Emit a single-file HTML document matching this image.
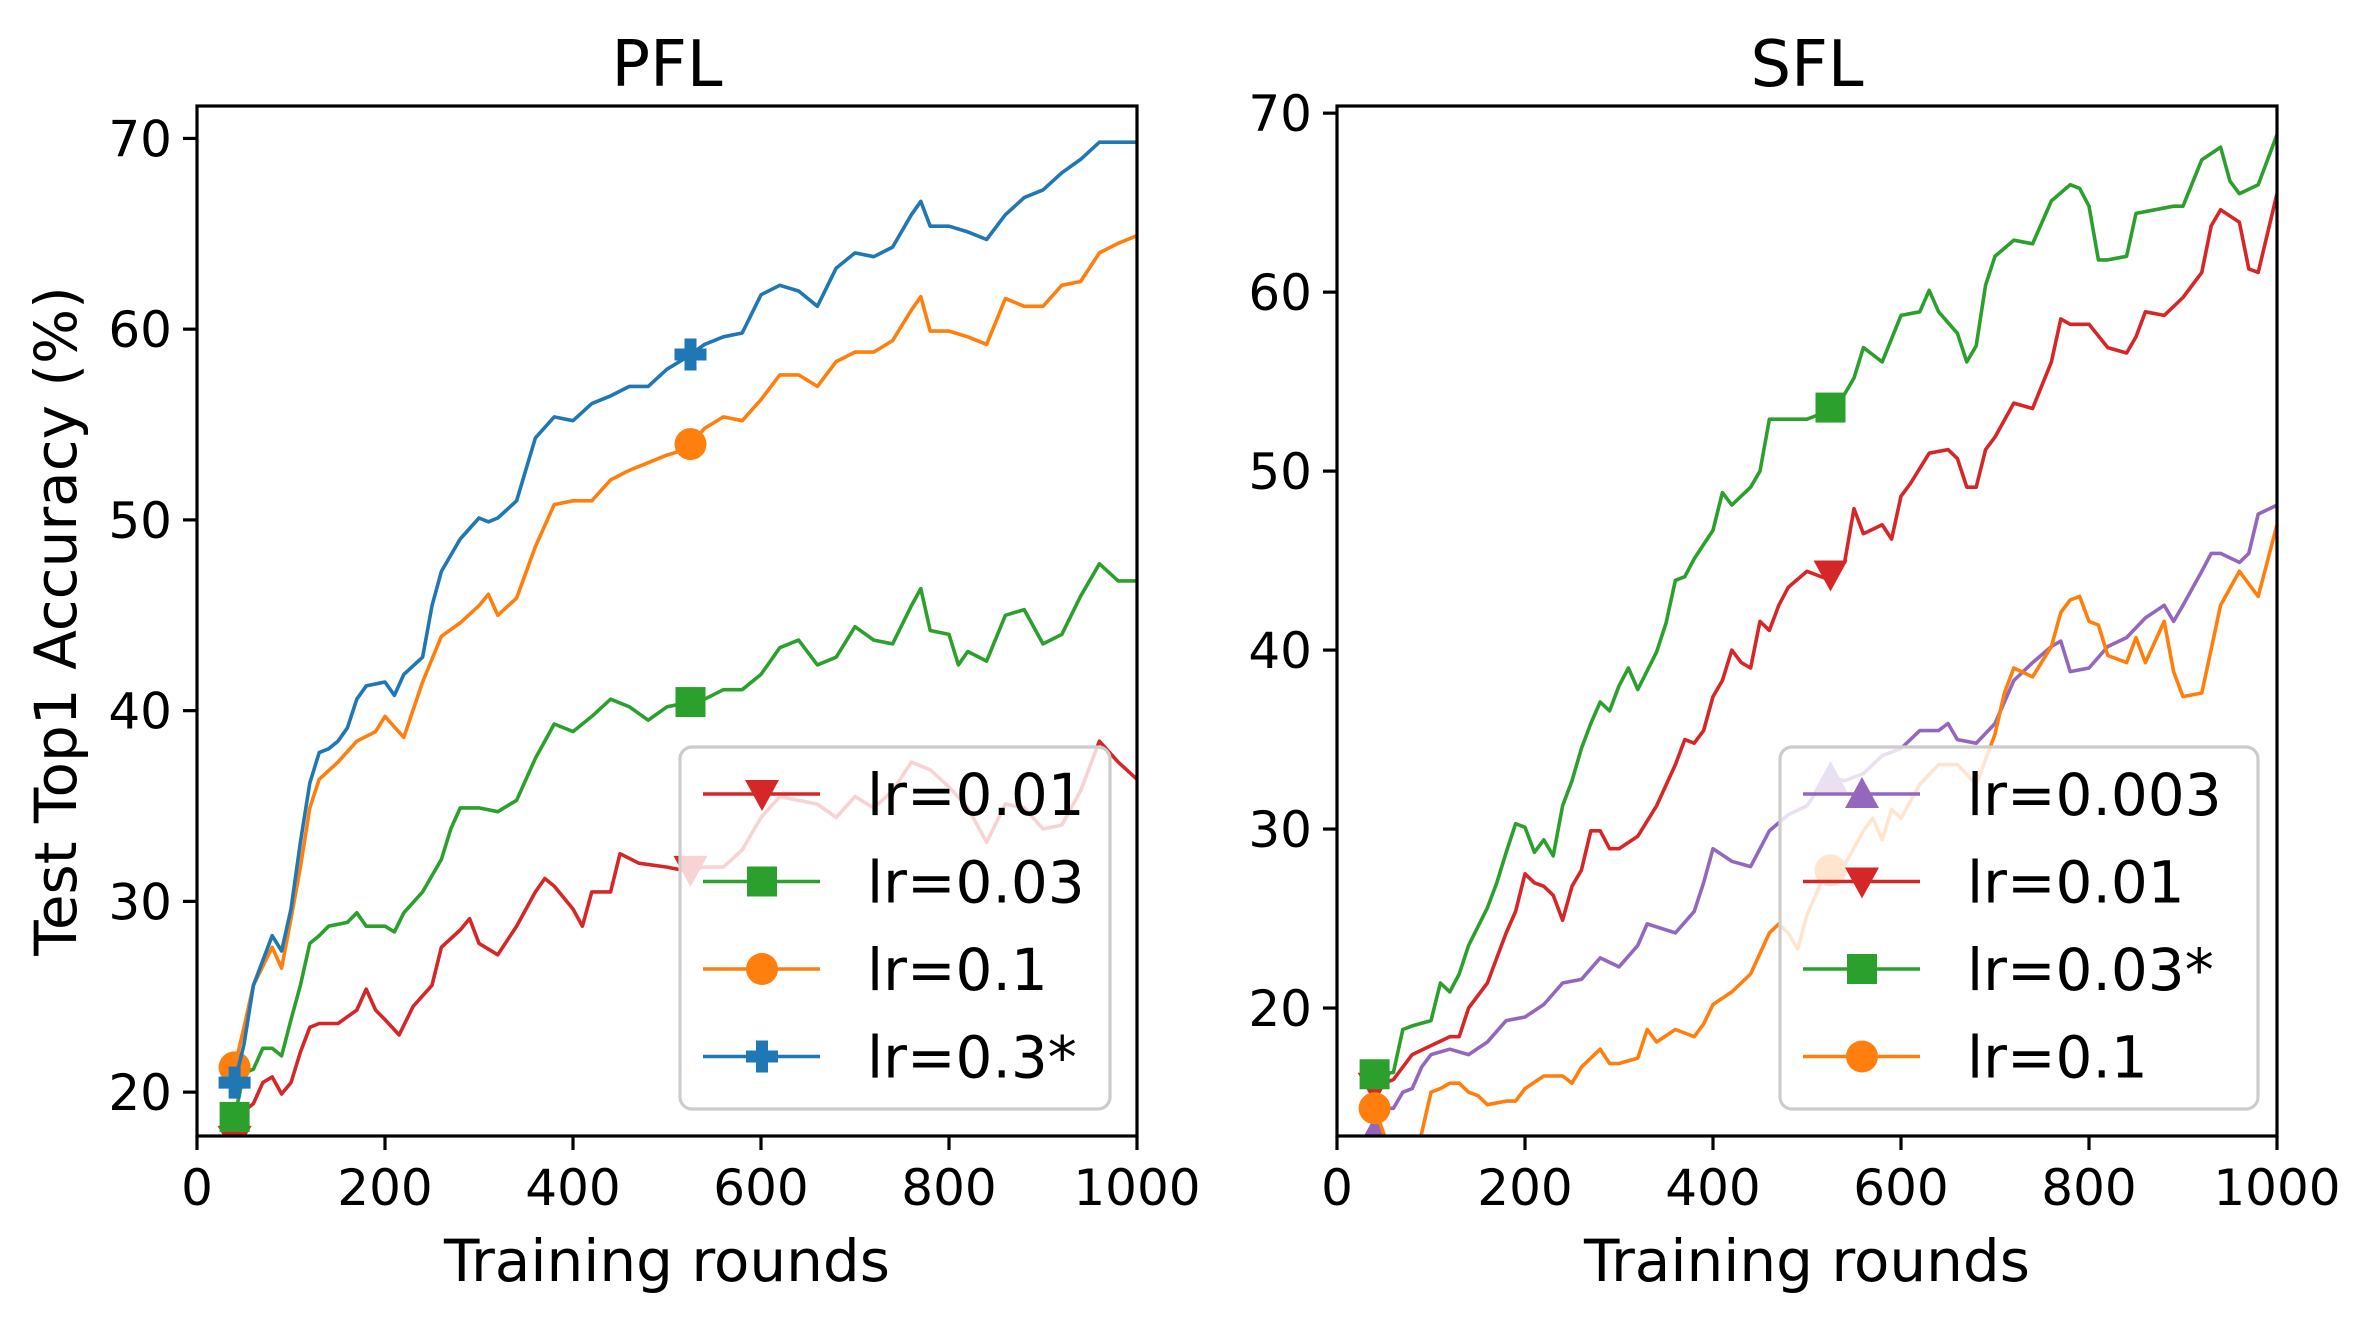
<!DOCTYPE html>
<html><head><meta charset="utf-8">
<style>
html,body{margin:0;padding:0;background:#fff;}
svg{display:block;font-family:"DejaVu Sans","Liberation Sans",sans-serif;}
</style></head>
<body>
<svg id="chart" width="2370" height="1317" viewBox="0 0 2370 1317" xmlns="http://www.w3.org/2000/svg">
<rect width="2370" height="1317" fill="#fff"/>
<defs>
<clipPath id="clipL"><rect x="197" y="106" width="940" height="1030"/></clipPath>
<clipPath id="clipR"><rect x="1337" y="106" width="940" height="1030"/></clipPath>
</defs>
<g id="root"></g>
</svg>
<script>
// ---- PFL data ----
const pflRedX=[40,50,60,70,80,90,100,110,120,130,150,170,180,190,200,215,230,250,260,280,290,300,320,340,360,370,380,400,410,420,440,450,470,500,520,540,560,580,600,620,640,660,680,700,720,740,760,780,800,820,840,860,880,900,920,940,960,980,1000];
const pflRedY=[17.5,19.0,19.4,20.5,20.8,19.9,20.5,22.1,23.4,23.6,23.6,24.3,25.4,24.3,23.8,23.0,24.5,25.6,27.6,28.5,29.1,27.8,27.2,28.7,30.5,31.2,30.8,29.6,28.7,30.5,30.5,32.5,32.0,31.8,31.6,31.8,31.8,32.7,34.4,35.5,35.3,35.1,34.4,35.5,34.9,35.8,37.3,36.9,36.0,34.9,33.1,35.1,34.9,33.8,34.0,35.8,38.4,37.3,36.4];
const pflGreenX=[40,50,60,70,80,90,100,110,120,130,140,160,170,180,200,210,220,240,260,270,280,300,320,340,360,370,380,400,420,440,460,480,500,520,540,560,580,600,620,640,660,680,700,720,740,760,770,780,800,810,820,840,860,880,900,920,940,960,980,1000];
const pflGreenY=[18.7,21.0,21.2,22.3,22.3,21.9,23.8,25.6,27.8,28.2,28.7,28.9,29.4,28.7,28.7,28.4,29.4,30.5,32.2,33.8,34.9,34.9,34.7,35.3,37.5,38.4,39.3,38.9,39.7,40.6,40.2,39.5,40.2,40.4,40.6,41.1,41.1,41.9,43.3,43.7,42.4,42.8,44.4,43.7,43.5,45.5,46.4,44.2,44.0,42.4,43.1,42.6,45.0,45.3,43.5,44.0,46.0,47.7,46.8,46.8];
const pflOrangeX=[40,50,60,80,90,100,110,120,130,150,170,190,200,220,240,260,280,300,310,320,340,360,380,400,420,440,460,480,500,520,540,560,580,600,620,640,660,680,700,720,740,760,770,780,800,820,840,860,880,900,920,940,960,980,1000];
const pflOrangeY=[21.3,23.4,25.6,27.6,26.5,29.1,31.8,34.9,36.4,37.3,38.4,38.9,39.7,38.6,41.5,43.9,44.6,45.5,46.1,45.0,45.9,48.6,50.8,51.0,51.0,52.1,52.6,53.0,53.4,53.7,54.8,55.4,55.2,56.3,57.6,57.6,57.0,58.3,58.8,58.8,59.4,61.0,61.7,59.9,59.9,59.6,59.2,61.6,61.2,61.2,62.3,62.5,64.0,64.5,64.9];
const pflBlueX=[40,50,60,70,80,90,100,110,120,130,140,150,160,170,180,200,210,220,240,250,260,280,300,310,320,340,360,380,400,420,440,460,480,500,520,540,560,580,600,620,640,660,680,700,720,740,760,770,780,800,820,840,860,880,900,920,940,960,980,1000];
const pflBlueY=[20.5,22.5,25.6,26.9,28.2,27.4,29.6,33.1,36.2,37.8,38.0,38.4,39.1,40.6,41.3,41.5,40.8,41.9,42.8,45.5,47.3,49.0,50.1,49.9,50.1,51.0,54.3,55.4,55.2,56.1,56.5,57.0,57.0,57.9,58.5,59.2,59.6,59.8,61.8,62.3,62.0,61.2,63.2,64.0,63.8,64.3,66.0,66.7,65.4,65.4,65.1,64.7,66.0,66.9,67.3,68.2,68.9,69.8,69.8,69.8];
// ---- SFL data ----
const sflPurpleX=[40,50,60,70,80,90,100,120,140,160,180,200,220,240,260,280,300,320,330,360,380,390,400,420,440,460,480,500,520,540,560,580,600,620,640,650,660,680,700,720,740,760,770,780,800,820,840,860,880,890,900,920,930,940,960,970,980,1000];
const sflPurpleY=[13.0,14.4,14.4,15.3,15.5,16.7,17.4,17.7,17.4,18.1,19.3,19.5,20.2,21.4,21.6,22.8,22.3,23.5,24.7,24.2,25.4,27.0,28.9,28.2,27.9,29.9,30.8,31.3,32.9,32.7,33.1,34.1,34.5,35.5,35.5,35.9,35.0,34.8,35.9,38.3,39.3,40.2,40.5,38.8,39.0,40.2,40.7,41.8,42.5,41.6,42.5,44.4,45.4,45.4,44.9,45.4,47.6,48.1];
const sflRedX=[40,60,80,100,120,130,140,160,170,180,190,200,210,220,230,240,250,260,270,280,290,300,320,340,360,370,380,390,400,410,420,430,440,450,460,470,480,500,520,540,550,560,580,590,600,610,630,650,660,670,680,690,700,720,740,760,770,780,800,820,840,850,860,880,900,910,920,930,940,960,970,980,1000];
const sflRedY=[15.6,16.0,17.4,17.9,18.4,18.4,20.0,21.4,22.8,24.2,25.4,27.5,27.0,26.8,26.3,24.9,26.8,27.7,29.9,29.9,28.9,28.9,29.6,31.3,33.6,35.0,34.8,35.5,37.4,38.3,40.0,39.3,39.0,41.6,41.1,42.5,43.5,44.4,44.0,44.9,47.9,46.5,47.0,46.2,48.6,49.3,51.0,51.2,50.7,49.1,49.1,51.2,51.9,53.8,53.5,56.1,58.5,58.2,58.2,56.9,56.6,57.5,58.9,58.7,59.7,60.4,61.1,63.7,64.6,63.9,61.3,61.1,65.5];
const sflGreenX=[40,60,70,80,100,110,120,130,140,160,170,180,190,200,210,220,230,240,250,260,270,280,290,300,310,320,340,350,360,370,380,400,410,420,440,450,460,480,500,520,540,550,560,580,600,620,630,640,660,670,680,690,700,720,740,760,780,790,800,810,820,840,850,870,890,900,920,940,950,960,980,1000];
const sflGreenY=[16.3,16.4,18.8,19.0,19.3,21.4,20.9,21.9,23.5,25.6,27.0,28.7,30.3,30.1,28.7,29.4,28.5,31.3,32.7,34.5,35.9,37.1,36.6,38.0,39.0,37.8,39.9,41.5,43.9,44.1,45.1,46.7,48.8,48.1,49.1,50.0,52.9,52.9,52.9,53.3,54.3,55.2,56.9,56.1,58.7,58.9,60.1,58.9,57.7,56.1,57.0,60.4,62.0,62.9,62.7,65.1,66.0,65.8,64.8,61.8,61.8,62.0,64.4,64.6,64.8,64.8,67.4,68.1,66.2,65.5,66.0,68.8];
const sflOrangeX=[40,60,80,90,100,110,120,130,140,150,160,180,190,200,220,240,250,260,280,290,300,320,330,340,360,380,390,400,420,440,460,470,480,490,500,520,540,560,570,580,590,600,620,640,660,680,700,710,720,740,760,770,780,790,800,810,820,840,850,860,880,890,900,920,940,960,980,1000];
const sflOrangeY=[14.4,11.5,11.5,13.0,15.3,15.5,15.8,15.8,15.3,15.1,14.6,14.8,14.8,15.5,16.2,16.2,15.8,16.7,17.7,16.9,16.9,17.2,18.8,18.1,18.8,18.4,19.1,20.2,20.9,21.9,24.2,24.7,24.2,23.3,25.2,27.6,28.0,29.9,30.6,29.4,31.1,30.6,32.5,33.6,33.6,32.5,35.3,37.6,39.0,38.5,40.2,42.1,42.8,43.0,41.6,41.4,39.7,39.3,40.7,39.3,41.6,38.8,37.4,37.6,42.5,44.4,43.0,47.0];
const markerRounds=[40,525];
const xTicks=[0,200,400,600,800,1000];
const pflYTicks=[20,30,40,50,60,70];
const sflYTicks=[20,30,40,50,60,70];
const pflLabels=["lr=0.01","lr=0.03","lr=0.1","lr=0.3*"];
const sflLabels=["lr=0.003","lr=0.01","lr=0.03*","lr=0.1"];

const NS="http://www.w3.org/2000/svg";
const root=document.getElementById('root');
function mk(tag,attrs,parent){const e=document.createElementNS(NS,tag);for(const k in attrs)e.setAttribute(k,attrs[k]);(parent||root).appendChild(e);return e;}
function interp(xs,ys,x){for(let i=1;i<xs.length;i++){if(x<=xs[i]){const t=(x-xs[i-1])/(xs[i]-xs[i-1]);return ys[i-1]+t*(ys[i]-ys[i-1]);}}return ys[ys.length-1];}
function marker(g,type,cx,cy,color){
  let e;
  if(type==='v'){e=mk('polygon',{points:`${cx-17},${cy-14} ${cx+17},${cy-14} ${cx},${cy+17}`,fill:color},g);}
  else if(type==='^'){e=mk('polygon',{points:`${cx-17},${cy+14} ${cx+17},${cy+14} ${cx},${cy-17}`,fill:color},g);}
  else if(type==='s'){e=mk('rect',{x:cx-15,y:cy-15,width:30,height:30,fill:color},g);}
  else if(type==='o'){e=mk('circle',{cx:cx,cy:cy,r:16,fill:color},g);}
  else {e=mk('path',{d:`M${cx-6},${cy-16}h12v10h10v12h-10v10h-12v-10h-10v-12h10z`,fill:color},g);}
  
  
  return e;
}
function panel(opt){
  const {x0,x1,y0,y1,ymin,ymax,title,series,yTicks,labels,legend,clip,ylabel,id}=opt;
  const sx=v=>x0+(v/1000)*(x1-x0);
  const sy=v=>y1-(v-ymin)/(ymax-ymin)*(y1-y0);
  const g=mk('g',{});
  
  
  const t=mk('text',{x:(x0+x1)/2,y:86,'font-size':64,'text-anchor':'middle',fill:'#000'},g);
  t.textContent=title;
  
  
  const lines=mk('g',{'clip-path':`url(#${clip})`},g);
  series.forEach(s=>{
    const pts=s.x.map((r,i)=>`${sx(r).toFixed(1)},${sy(s.y[i]).toFixed(1)}`).join(' ');
    const pl=mk('polyline',{points:pts,fill:'none',stroke:s.color,'stroke-width':3.6,'stroke-linejoin':'round'},lines);
    
    
    markerRounds.forEach(r=>marker(lines,s.m,sx(r),sy(interp(s.x,s.y,r)),s.color));
  });
  const fr=mk('rect',{x:x0,y:y0,width:x1-x0,height:y1-y0,fill:'none',stroke:'#000','stroke-width':3.2},g);
  
  
  xTicks.forEach(v=>{
    const tk=mk('line',{x1:sx(v),x2:sx(v),y1:y1,y2:y1+14,stroke:'#000','stroke-width':3.2},g);
    
    
    const tl=mk('text',{x:sx(v),y:1205,'font-size':50,'text-anchor':'middle',fill:'#000'},g);
    tl.textContent=v;
    
    
  });
  yTicks.forEach(v=>{
    const tk=mk('line',{x1:x0-14,x2:x0,y1:sy(v),y2:sy(v),stroke:'#000','stroke-width':3.2},g);
    
    
    const tl=mk('text',{x:x0-25,y:sy(v)+18,'font-size':50,'text-anchor':'end',fill:'#000'},g);
    tl.textContent=v;
    
    
  });
  const xl=mk('text',{x:(x0+x1)/2,y:1281,'font-size':58,'text-anchor':'middle',fill:'#000'},g);
  xl.textContent='Training rounds';
  
  
  if(ylabel){
    const yl=mk('text',{x:0,y:0,'font-size':58,'text-anchor':'middle',fill:'#000',transform:`translate(76,621) rotate(-90)`},g);
    yl.textContent=ylabel;
    
    
  }
  const lg=mk('g',{},g);
  
  
  mk('rect',{x:legend.x,y:747,width:legend.w,height:362,rx:12,fill:'#fff','fill-opacity':0.8,stroke:'#cccccc','stroke-width':3.2},lg);
  legend.order.forEach((si,i)=>{
    const s=series[si];
    const cy=794+i*87.5;
    const ent=mk('g',{},lg);
    
    
    mk('line',{x1:legend.x+23,x2:legend.x+140,y1:cy,y2:cy,stroke:s.color,'stroke-width':3.6},ent);
    marker(ent,s.m,legend.x+82,cy,s.color);
    const tx=mk('text',{x:legend.x+187,y:cy+21,'font-size':58,fill:'#000'},ent);
    tx.textContent=labels[i];
  });
}
panel({id:'pfl',x0:197,x1:1137,y0:106,y1:1136,ymin:17.7,ymax:71.7,title:'PFL',clip:'clipL',
  ylabel:'Test Top1 Accuracy (%)',yTicks:pflYTicks,labels:pflLabels,
  legend:{x:680,w:430,order:[0,1,2,3]},
  series:[
   {name:'pfl-lr-0.01-line',x:pflRedX,y:pflRedY,color:'#d62728',m:'v'},
   {name:'pfl-lr-0.03-line',x:pflGreenX,y:pflGreenY,color:'#2ca02c',m:'s'},
   {name:'pfl-lr-0.1-line',x:pflOrangeX,y:pflOrangeY,color:'#ff7f0e',m:'o'},
   {name:'pfl-lr-0.3-line',x:pflBlueX,y:pflBlueY,color:'#1f77b4',m:'P'}]});
panel({id:'sfl',x0:1337,x1:2277,y0:106,y1:1136,ymin:12.85,ymax:70.4,title:'SFL',clip:'clipR',
  ylabel:null,yTicks:sflYTicks,labels:sflLabels,
  legend:{x:1780,w:478,order:[0,1,2,3]},
  series:[
   {name:'sfl-lr-0.003-line',x:sflPurpleX,y:sflPurpleY,color:'#9467bd',m:'^'},
   {name:'sfl-lr-0.01-line',x:sflRedX,y:sflRedY,color:'#d62728',m:'v'},
   {name:'sfl-lr-0.03-line',x:sflGreenX,y:sflGreenY,color:'#2ca02c',m:'s'},
   {name:'sfl-lr-0.1-line',x:sflOrangeX,y:sflOrangeY,color:'#ff7f0e',m:'o'}]});
</script>
</body></html>
